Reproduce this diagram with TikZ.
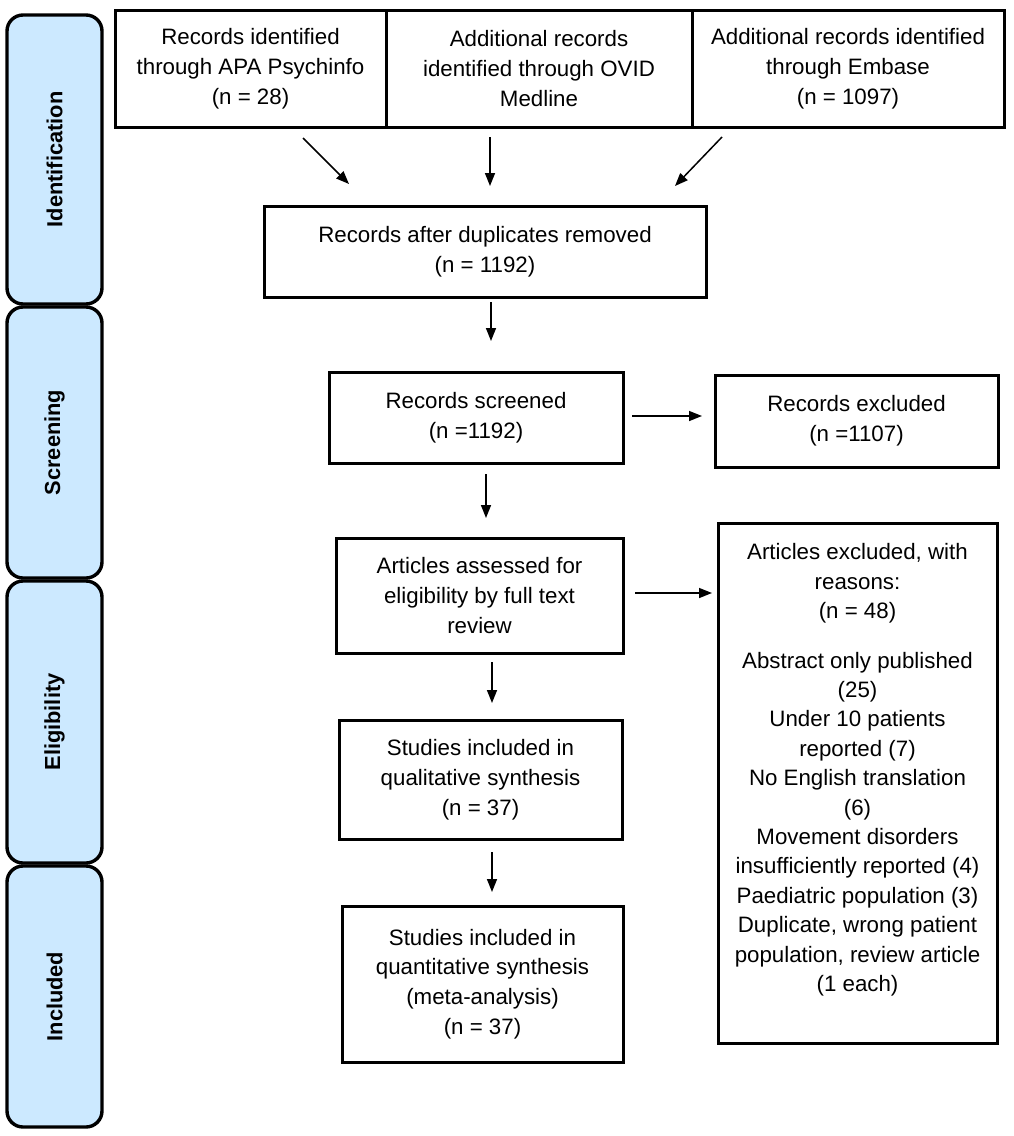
\documentclass[tikz,border=0pt]{standalone}
\usepackage{fontspec}
\setmainfont{Liberation Sans}
\usetikzlibrary{arrows.meta,calc}
\definecolor{sidefill}{RGB}{204,233,255}
\begin{document}
\begin{tikzpicture}[x=1pt,y=-1pt,
  box/.style={draw, line width=3pt, align=center, inner sep=0pt, outer sep=0pt, font=\fontsize{22.3}{29.8}\selectfont},
  side/.style={draw, line width=3.4pt, fill=sidefill, rounded corners=16pt, inner sep=0pt, outer sep=0pt, minimum width=95pt},
  lab/.style={font=\fontsize{21.8}{26}\selectfont\bfseries, rotate=90, inner sep=0pt},
  arr/.style={line width=1.5pt, -{Triangle[length=13pt,width=10pt]}}]

\path[use as bounding box] (0,0) rectangle (1014,1136);

% side stage labels
\node[side, minimum height=289pt] (sid) at (54.5,159.5) {};
\node[lab] (lid) at (sid.center) {Identification};
\node[side, minimum height=271pt] (ssc) at (54.5,442.5) {};
\node[lab] (lsc) at (ssc.center) {Screening};
\node[side, minimum height=282pt] (sel) at (54.5,722) {};
\node[lab] (lel) at (sel.center) {Eligibility};
\node[side, minimum height=261pt] (sin) at (54.5,996.5) {};
\node[lab] (lin) at (sin.center) {Included};

% top sources
\node[box, minimum width=271pt, minimum height=117pt] (src1) at (250.5,68.5) {Records identified\\through APA Psychinfo\\(n = 28)};
\node[box, minimum width=306pt, minimum height=117pt] (src2) at (539,68.5) {Additional records\\identified through OVID\\Medline};
\node[box, minimum width=312pt, minimum height=117pt] (src3) at (848,68.5) {Additional records identified\\through Embase\\(n = 1097)};

% main flow
\node[box, minimum width=442pt, minimum height=91pt] (dup) at (485,251.5) {Records after duplicates removed\\(n = 1192)};
\node[box, minimum width=294pt, minimum height=91pt] (scr) at (476,417.5) {Records screened\\(n =1192)};
\node[box, minimum width=283pt, minimum height=92pt] (exc1) at (856.5,421) {Records excluded\\(n =1107)};
\node[box, minimum width=287pt, minimum height=115pt] (elig) at (479.5,595.5) {Articles assessed for\\eligibility by full text\\review};
\node[box, minimum width=279pt, minimum height=520pt] (exc2) at (857.5,783) {};
\node[align=center, inner sep=0pt, font=\fontsize{22.3}{29.4}\selectfont] (exc2t) at (857.5,770) {Articles excluded, with\\reasons:\\(n = 48)\\[20pt]Abstract only published\\(25)\\Under 10 patients\\reported (7)\\No English translation\\(6)\\Movement disorders\\insufficiently reported (4)\\Paediatric population (3)\\Duplicate, wrong patient\\population, review article\\(1 each)};
\node[box, minimum width=283pt, minimum height=119pt] (qual) at (480.5,779.5) {Studies included in\\qualitative synthesis\\(n = 37)};
\node[box, minimum width=281pt, minimum height=156pt] (quan) at (482.5,984) {Studies included in\\quantitative synthesis\\(meta-analysis)\\(n = 37)};

% connectors
\draw[arr] ($(src1.south)+(52.5,11)$) -- ($(src1.south)+(98.5,57)$);
\draw[arr] ($(src2.south)+(-49,10)$) -- ($(src2.south)+(-49,59)$);
\draw[arr] ($(src3.south)+(-126,10)$) -- ($(src3.south)+(-173,59)$);
\draw[arr] ($(dup.south)+(6,5)$) -- ($(scr.north)+(15,-31)$);
\draw[arr] ($(scr.south)+(10,11)$) -- ($(elig.north)+(6.5,-20)$);
\draw[arr] ($(scr.east)+(9,-1.5)$) -- ($(scr.east)+(79,-1.5)$);
\draw[arr] ($(elig.east)+(12,-2.5)$) -- ($(elig.east)+(89,-2.5)$);
\draw[arr] ($(elig.south)+(12.5,9)$) -- ($(qual.north)+(11.5,-17)$);
\draw[arr] ($(qual.south)+(11.5,13)$) -- ($(quan.north)+(9.5,-14)$);
\end{tikzpicture}
\end{document}
